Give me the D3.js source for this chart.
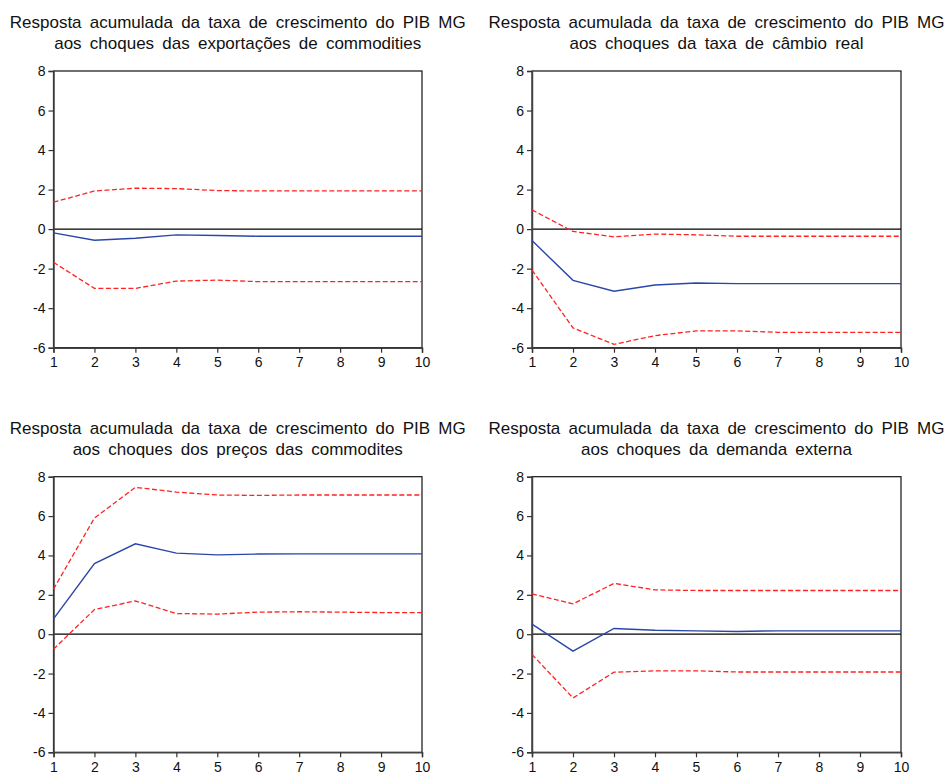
<!DOCTYPE html>
<html>
<head>
<meta charset="utf-8">
<script src="https://cdn.jsdelivr.net/npm/d3@7"></script>
<style>
  html, body { margin: 0; padding: 0; background: #fff; }
  svg { display: block; }
  text { font-family: Arial, "Liberation Sans", Helvetica, sans-serif; fill: #111; }
</style>
</head>
<body>
<svg id="chart" width="947" height="775"></svg>
<script>
const periods = [1, 2, 3, 4, 5, 6, 7, 8, 9, 10];
const yTicks = [-6, -4, -2, 0, 2, 4, 6, 8];

const titles = [
  ["Resposta acumulada da taxa de crescimento do PIB MG", "aos choques das exportações de commodities"],
  ["Resposta acumulada da taxa de crescimento do PIB MG", "aos choques da taxa de câmbio real"],
  ["Resposta acumulada da taxa de crescimento do PIB MG", "aos choques dos preços das commodites"],
  ["Resposta acumulada da taxa de crescimento do PIB MG", "aos choques da demanda externa"]
];

const respExport = [-0.19, -0.56, -0.46, -0.29, -0.32, -0.36, -0.36, -0.36, -0.36, -0.36];
const upperExport = [1.36, 1.93, 2.07, 2.05, 1.95, 1.93, 1.93, 1.93, 1.93, 1.93];
const lowerExport = [-1.68, -3.0, -3.0, -2.63, -2.58, -2.66, -2.66, -2.66, -2.66, -2.66];

const respCambio = [-0.58, -2.59, -3.14, -2.83, -2.73, -2.76, -2.76, -2.76, -2.76, -2.76];
const upperCambio = [0.97, -0.12, -0.39, -0.25, -0.29, -0.36, -0.36, -0.36, -0.36, -0.36];
const lowerCambio = [-2.07, -5.0, -5.83, -5.39, -5.15, -5.15, -5.22, -5.22, -5.22, -5.22];

const respPrecos = [0.78, 3.59, 4.59, 4.12, 4.03, 4.07, 4.08, 4.08, 4.08, 4.08];
const upperPrecos = [2.29, 5.9, 7.46, 7.22, 7.07, 7.05, 7.07, 7.07, 7.07, 7.07];
const lowerPrecos = [-0.76, 1.25, 1.69, 1.05, 1.02, 1.12, 1.14, 1.12, 1.10, 1.10];

const respDemanda = [0.51, -0.86, 0.29, 0.20, 0.17, 0.14, 0.17, 0.17, 0.17, 0.17];
const upperDemanda = [2.05, 1.54, 2.58, 2.25, 2.22, 2.22, 2.22, 2.22, 2.22, 2.22];
const lowerDemanda = [-1.03, -3.24, -1.93, -1.86, -1.86, -1.92, -1.92, -1.92, -1.92, -1.92];

const panelsData = [
  { title: titles[0], resp: respExport, upper: upperExport, lower: lowerExport },
  { title: titles[1], resp: respCambio, upper: upperCambio, lower: lowerCambio },
  { title: titles[2], resp: respPrecos, upper: upperPrecos, lower: lowerPrecos },
  { title: titles[3], resp: respDemanda, upper: upperDemanda, lower: lowerDemanda }
];

const layout = [
  { left: 53.5, right: 422, top: 71, bottom: 347.7 },
  { left: 532, right: 901, top: 71, bottom: 347.7 },
  { left: 53.5, right: 422, top: 476.7, bottom: 752.3 },
  { left: 532, right: 901, top: 476.7, bottom: 752.3 }
];

const svg = d3.select("#chart");
const titleWidth = 456;

panelsData.forEach((p, i) => {
  const L = layout[i];
  const x = d3.scaleLinear().domain([1, 10]).range([L.left, L.right]);
  const y = d3.scaleLinear().domain([-6, 8]).range([L.bottom, L.top]);
  const g = svg.append("g");

  // titles
  const cx = (L.left + L.right) / 2;
  let ws = 0;
  p.title.forEach((t, k) => {
    const el = g.append("text")
      .attr("x", cx)
      .attr("y", L.top - 43 + k * 21)
      .attr("text-anchor", "middle")
      .style("font-size", "17px")
      .text(t);
    if (k === 0) {
      const w = el.node().getComputedTextLength();
      const spaces = (t.match(/ /g) || []).length;
      ws = Math.max(0, (titleWidth - w) / spaces);
    }
    el.style("word-spacing", ws + "px");
  });

  // frame
  g.append("rect")
    .attr("x", L.left).attr("y", L.top)
    .attr("width", L.right - L.left).attr("height", L.bottom - L.top)
    .attr("fill", "none").attr("stroke", "#111").attr("stroke-width", 1.2);

  // zero line
  g.append("line")
    .attr("x1", L.left).attr("x2", L.right)
    .attr("y1", y(0)).attr("y2", y(0))
    .attr("stroke", "#000").attr("stroke-width", 1.2);

  // axes
  const fmt = d => String(d);
  const yAxis = d3.axisLeft(y).tickValues(yTicks).tickSize(5).tickPadding(3).tickFormat(fmt);
  const xAxis = d3.axisBottom(x).tickValues(periods).tickSize(5).tickPadding(4.5).tickFormat(fmt);
  const ya = g.append("g").attr("transform", `translate(${L.left},0)`).call(yAxis);
  const xa = g.append("g").attr("transform", `translate(0,${L.bottom})`).call(xAxis);
  [ya, xa].forEach(a => {
    a.attr("font-size", null).attr("font-family", null);
    a.select(".domain").attr("stroke", "#444").attr("stroke-width", 1.5);
    a.selectAll(".tick line").attr("stroke", "#333").attr("stroke-width", 1.2);
    a.selectAll(".tick text").style("font-size", "14px").attr("fill", "#111");
  });

  const line = d3.line().x((d, j) => x(periods[j])).y(d => y(d));

  g.append("path").datum(p.upper).attr("d", line)
    .attr("fill", "none").attr("stroke", "#ff2222").attr("stroke-width", 1.3)
    .attr("stroke-dasharray", "5,2.5");
  g.append("path").datum(p.lower).attr("d", line)
    .attr("fill", "none").attr("stroke", "#ff2222").attr("stroke-width", 1.3)
    .attr("stroke-dasharray", "5,2.5");
  g.append("path").datum(p.resp).attr("d", line)
    .attr("fill", "none").attr("stroke", "#2a47a8").attr("stroke-width", 1.4);
});
</script>
</body>
</html>
